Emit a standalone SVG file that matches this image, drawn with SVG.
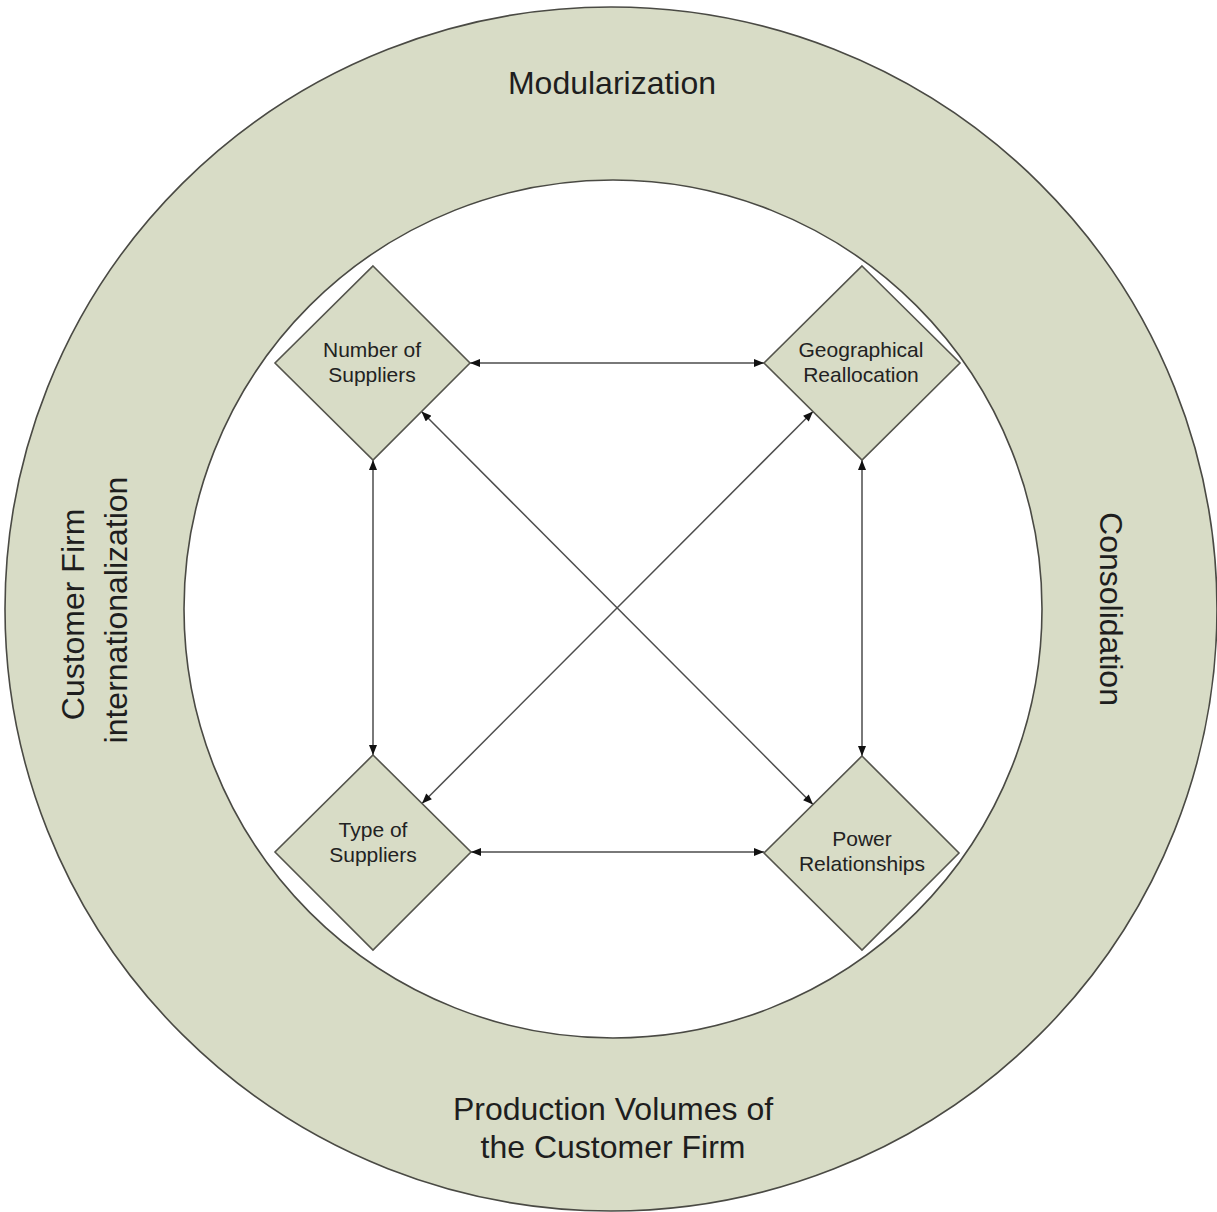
<svg xmlns="http://www.w3.org/2000/svg" width="1217" height="1212" viewBox="0 0 1217 1212">
  <style>
    .ring { fill: #d8dcc6; stroke: #4a4a44; stroke-width: 1.6; }
    .hole { fill: #ffffff; stroke: #4a4a44; stroke-width: 1.6; }
    .node { fill: #d8dcc6; stroke: #55554d; stroke-width: 1.6; }
    .big { font-family: "Liberation Sans", Arial, sans-serif; font-size: 32px; fill: #1e1e1e; text-anchor: middle; }
    .small { font-family: "Liberation Sans", Arial, sans-serif; font-size: 21px; fill: #222222; text-anchor: middle; }
    .link { stroke: #4d4d4d; stroke-width: 1.5; fill: none; marker-start: url(#head); marker-end: url(#head); }
  </style>
  <defs>
    <marker id="head" viewBox="0 0 10 8" refX="10" refY="4" markerWidth="11" markerHeight="8" markerUnits="userSpaceOnUse" orient="auto-start-reverse">
      <path d="M0,0 L10,4 L0,8 Z" fill="#111111"/>
    </marker>
  </defs>

  <rect width="1217" height="1212" fill="#ffffff"/>

  <!-- outer ring of drivers -->
  <g id="ring">
    <ellipse class="ring" cx="611" cy="609" rx="606" ry="602"/>
    <circle class="hole" cx="613" cy="609" r="429"/>
    <text class="big" x="612" y="94">Modularization</text>
    <text class="big" transform="translate(1100,609) rotate(90)">Consolidation</text>
    <text class="big" transform="translate(84,610) rotate(-90)">
      <tspan x="0" y="0">Customer Firm</tspan>
      <tspan x="0" y="43">internationalization</tspan>
    </text>
    <text class="big" x="613" y="1120">Production Volumes of</text>
    <text class="big" x="613" y="1158">the Customer Firm</text>
  </g>

  <!-- connectors between the four dimensions -->
  <g id="connectors">
    <line class="link" x1="470" y1="363" x2="764" y2="363"/>
    <line class="link" x1="471" y1="852" x2="764" y2="852"/>
    <line class="link" x1="373" y1="460" x2="373" y2="755"/>
    <line class="link" x1="862" y1="460" x2="862" y2="756"/>
    <line class="link" x1="421.5" y1="411.5" x2="813" y2="804.5"/>
    <line class="link" x1="813" y1="411.5" x2="422" y2="803.5"/>
  </g>

  <g id="number-of-suppliers">
    <polygon class="node" points="373,266 470,363 373,460 275,363"/>
    <text class="small" x="372" y="357">Number of</text>
    <text class="small" x="372" y="382">Suppliers</text>
  </g>

  <g id="geographical-reallocation">
    <polygon class="node" points="862,266 960,363 862,460 764,363"/>
    <text class="small" x="861" y="357">Geographical</text>
    <text class="small" x="861" y="382">Reallocation</text>
  </g>

  <g id="type-of-suppliers">
    <polygon class="node" points="373,755 471,852 373,950 275,852"/>
    <text class="small" x="373" y="837">Type of</text>
    <text class="small" x="373" y="862">Suppliers</text>
  </g>

  <g id="power-relationships">
    <polygon class="node" points="862,756 959,853 862,950 764,853"/>
    <text class="small" x="862" y="846">Power</text>
    <text class="small" x="862" y="871">Relationships</text>
  </g>
</svg>
